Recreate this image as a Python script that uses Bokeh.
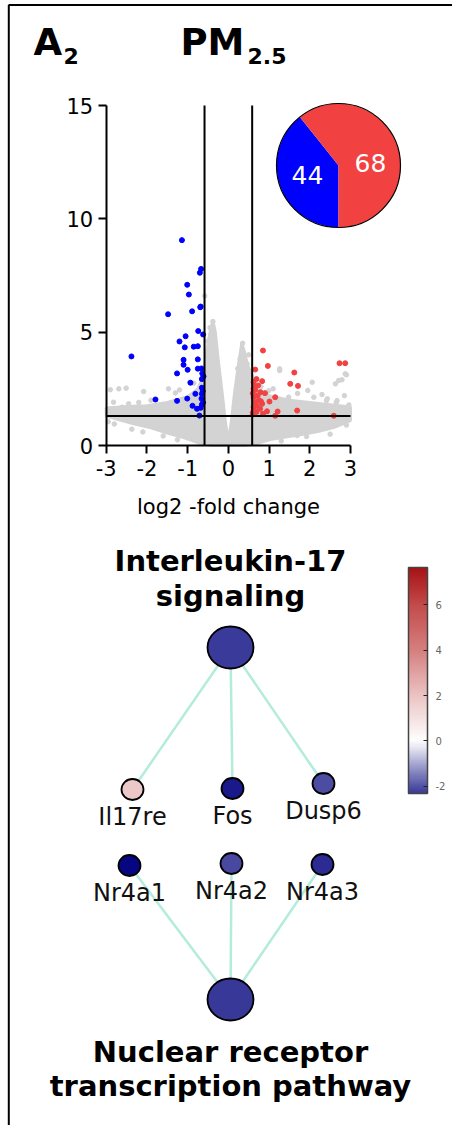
import numpy as np
from bokeh.plotting import figure
from bokeh.models import (Range1d, FixedTicker, LinearColorMapper, ColorBar, ColumnDataSource,
                          LinearAxis)
from bokeh.core.properties import value
from bokeh.embed import file_html
from bokeh.resources import INLINE

# ---------------- data ----------------
down_count = 44
up_count = 68
fc_cut = 0.585
p_cut = 1.301

x_ticks = [-3, -2, -1, 0, 1, 2, 3]
y_ticks = [0, 5, 10, 15]

blue_x = [-1.14, -0.67, -0.70, -1.01, -0.97, -0.69, -0.68, -0.89, -1.48, -0.74, -0.62, -1.05,
          -1.20, -1.07, -0.85, -0.75, -2.38, -1.10, -0.75, -1.10, -1.00, -0.75, -0.66, -1.26,
          -0.64, -0.65, -0.93, -0.65, -0.81, -0.65, -1.01, -1.79, -1.26, -0.66, -0.88, -0.77,
          -0.68, -0.65, -0.71, -0.62, -0.63, -0.61]
blue_y = [9.06, 7.79, 7.62, 7.09, 6.66, 6.10, 6.13, 5.92, 5.79, 5.05, 4.90, 4.82,
          4.59, 4.33, 4.36, 4.38, 3.93, 3.78, 3.80, 3.56, 3.34, 3.39, 3.40, 3.18,
          3.18, 2.93, 2.77, 2.55, 2.28, 2.28, 2.07, 2.03, 1.97, 2.07, 1.75, 1.62,
          1.66, 1.81, 1.32, 1.90, 2.40, 3.05]

red_x = [0.85, 0.97, 0.66, 1.62, 2.73, 2.87, 0.69, 0.83, 1.52, 1.71, 0.62, 0.79, 0.90,
         1.15, 0.62, 0.66, 1.01, 0.83, 0.62, 0.95, 1.21, 1.69, 0.69, 0.85, 1.15, 2.59,
         0.60, 0.62, 0.65, 0.60, 0.72, 0.75, 0.63, 0.70, 0.78, 0.60, 0.66, 0.73, 0.80]
red_y = [4.19, 3.51, 3.35, 3.22, 3.63, 3.63, 2.93, 2.84, 2.72, 2.63, 2.50, 2.35, 2.31,
         2.13, 2.13, 1.91, 1.94, 1.84, 1.69, 1.51, 1.50, 1.54, 1.48, 1.40, 1.31, 1.31,
         1.37, 2.80, 2.60, 2.30, 2.20, 2.00, 1.55, 1.75, 1.62, 1.45, 2.45, 2.65, 1.95]

grey_x = [-2.90, -2.69, -2.51, -2.08, -1.47, -0.95, -1.30, -2.82, -2.61, -2.45, -2.37, -1.90,
          -2.20, -1.20, -0.85, -2.95, -2.80, -2.10, -1.60, -1.25, -0.58, -0.38, -0.39, -0.45,
          -0.50, 0.35, 0.29, 0.46, 1.26, 1.26, 0.23, 2.06, 2.63, 2.79, 2.90, 1.95, 0.99, 1.48,
          2.43, 2.96, 2.67, 1.92, 2.10, 1.69, 2.87, 2.71, 2.10, 2.41, 2.65, 0.50, 1.10, 1.70,
          2.30, 2.85, 0.80, 1.30, 2.50, 2.90]
grey_y = [2.46, 2.50, 2.53, 2.38, 2.50, 2.79, 2.32, 1.91, 1.69, 1.84, 0.72, 2.00,
          1.90, 2.45, 2.75, 1.05, 0.95, 0.60, 0.42, 0.25, 6.60, 5.47, 5.20, 5.20,
          4.60, 4.51, 3.82, 3.60, 3.31, 3.38, 3.39, 2.79, 2.72, 2.90, 3.12, 2.43, 2.41, 2.13,
          2.06, 1.79, 1.98, 0.40, 0.76, 0.44, 3.16, 2.87, 2.13, 1.98, 1.90, 4.00, 2.50, 2.30,
          2.25, 2.20, 2.60, 0.20, 0.50, 0.90]

# outline of the dense cloud of non-significant genes
cloud_x = [-3.0, -2.5, -2.0, -1.5, -1.0, -0.75, -0.62, -0.55, -0.45, -0.38, -0.32, -0.25, -0.15,
           -0.07, 0.0, 0.07, 0.15, 0.25, 0.33, 0.40, 0.48, 0.58, 0.70, 1.0, 1.5, 2.0, 2.5, 3.0,
           3.0, 2.6, 2.2, 1.8, 1.4, 1.0, 0.7, 0.4, -0.4, -0.7, -1.1, -1.5, -1.9, -2.3, -2.7, -3.0]
cloud_y = [1.65, 1.72, 1.75, 1.90, 2.15, 2.50, 3.00, 4.00, 5.00, 5.50, 5.00, 3.80, 2.30,
           1.00, 0.20, 1.00, 2.30, 3.60, 4.50, 4.10, 3.50, 3.10, 2.50, 2.20, 2.00, 1.90, 1.80, 1.70,
           1.10, 0.80, 0.62, 0.48, 0.37, 0.25, 0.08, 0.00, 0.00, 0.10, 0.35, 0.55, 0.78, 0.95, 1.15, 1.30]

# network (layout positions in page pixels)
path_line1 = ["Interleukin-17", "Nuclear receptor"]
path_line2 = ["signaling", "transcription pathway"]
path_x = [230, 230]
path_y = [647, 999]
path_val = [-2.35, -2.40]

genes = ["Il17re", "Fos", "Dusp6", "Nr4a1", "Nr4a2", "Nr4a3"]
gene_x = [132, 232, 323, 129, 231, 322]
gene_y = [789, 788, 783, 865, 863, 864]
gene_val = [1.85, -3.25, -2.05, -3.80, -2.10, -2.75]
gene_path = [0, 0, 0, 1, 1, 1]

cbar_ticks = [-2, 0, 2, 4, 6]
cbar_low, cbar_high = -2.3, 7.65

# ---------------- styles / geometry ----------------
FONT = value("DejaVu Sans")
BLUE = "#0000ff"
RED = "#f24141"
GREY = "#d3d3d3"
W, H = 452, 1125
VL, VR, VB, VT = 105.7, 350.0, 445.0, 105.0   # page pixels of volcano axes ends
BASE = 0.41   # baseline correction (fraction of font size)

anc_v = [-4.0, -2.3, -2.0, 0.0, 2.0, 4.0, 6.0, 7.65]
anc_c = [(0, 0, 128), (60, 60, 155), (82, 82, 166), (255, 255, 255),
         (236, 196, 196), (214, 128, 128), (196, 76, 76), (168, 18, 22)]
vv = np.linspace(anc_v[0], anc_v[-1], 256)
chan = [np.interp(vv, anc_v, [c[i] for c in anc_c]) for i in range(3)]
palette = ["#%02x%02x%02x" % (int(r), int(g), int(b)) for r, g, b in zip(*chan)]
mapper = LinearColorMapper(palette=palette, low=anc_v[0], high=anc_v[-1])

p = figure(width=W, height=H, x_range=Range1d(0, W), y_range=Range1d(H, 0),
           toolbar_location=None, output_backend="svg",
           x_axis_location=None, y_axis_location=None,
           min_border=0, outline_line_color=None)
p.xgrid.visible = False
p.ygrid.visible = False

# volcano coordinate system
sx = (VR - VL) / (x_ticks[-1] - x_ticks[0])
sy = (VB - VT) / (y_ticks[-1] - y_ticks[0])
x0 = x_ticks[0] - VL / sx
y_top = y_ticks[0] + VB / sy
p.extra_x_ranges = {"vx": Range1d(x0, x0 + W / sx)}
p.extra_y_ranges = {"vy": Range1d(y_top - H / sy, y_top)}
V = dict(x_range_name="vx", y_range_name="vy")


def fs(px):
    return "%dpx" % px


def txt(x, y, text, size, dy=0, bold=False, **kw):
    off = dy - BASE * size if np.isscalar(dy) else [d - BASE * size for d in dy]
    p.text(x=x, y=y, text=text, y_offset=off, text_font=FONT,
           text_font_style="bold" if bold else "normal", text_font_size=fs(size),
           text_baseline="alphabetic", **kw)


# frame border
p.segment(x0=[8], y0=[4.5], x1=[W], y1=[4.5], line_color="black", line_width=2)
p.segment(x0=[8.3], y0=[4.5], x1=[8.3], y1=[H], line_color="black", line_width=2)

# header
txt([33, 180], [57, 57], ["A", "PM"], 37, bold=True, text_color="black")
txt([63, 247], [65, 65], ["2", "2.5"], 22, bold=True, text_color="black")

# volcano
p.patch(cloud_x, cloud_y, fill_color=GREY, line_color=GREY, line_width=3, **V)
p.scatter(grey_x, grey_y, size=4.5, color=GREY, **V)
p.scatter(blue_x, blue_y, size=5, color=BLUE, **V)
p.scatter(red_x, red_y, size=5, color=RED, **V)
p.segment(x0=[-fc_cut, fc_cut], y0=[y_ticks[0]] * 2, x1=[-fc_cut, fc_cut], y1=[y_ticks[-1]] * 2,
          line_color="black", line_width=2, **V)
p.segment(x0=[x_ticks[0]], y0=[p_cut], x1=[x_ticks[-1]], y1=[p_cut], line_color="black",
          line_width=2, **V)

xax = LinearAxis(fixed_location=y_ticks[0], bounds=(x_ticks[0], x_ticks[-1]),
                 ticker=FixedTicker(ticks=x_ticks),
                 major_label_overrides={t: str(t) for t in x_ticks},
                 axis_label="log2 -fold change", **V)
yax = LinearAxis(fixed_location=x_ticks[0], bounds=(y_ticks[0], y_ticks[-1]),
                 ticker=FixedTicker(ticks=y_ticks), **V)
for ax in (xax, yax):
    ax.axis_line_width = 2
    ax.major_tick_line_width = 2
    ax.major_tick_out = 8
    ax.major_tick_in = 0
    ax.minor_tick_line_color = None
    ax.major_label_text_font = "DejaVu Sans"
    ax.major_label_text_font_size = "21px"
    ax.major_label_text_color = "black"
xax.major_label_standoff = 6
yax.major_label_standoff = 5
xax.axis_label_text_font = "DejaVu Sans"
xax.axis_label_text_font_size = "21px"
xax.axis_label_text_font_style = "normal"
xax.axis_label_text_color = "black"
xax.axis_label_standoff = 16
p.add_layout(xax, "below")
p.add_layout(yax, "left")

# pie inset (centre given in page pixels)
pie_cx, pie_cy, pie_r = 338, 165, 62
total = down_count + up_count
a0 = np.pi * 1.5
a_blue = a0 - 2 * np.pi * down_count / total
pie_src = ColumnDataSource(dict(start=[a_blue, a0], end=[a0, a_blue + 2 * np.pi],
                                color=[BLUE, RED]))
p.wedge(x=x0 + pie_cx / sx, y=y_top - pie_cy / sy, radius=pie_r, radius_units="screen",
        start_angle="start", end_angle="end", fill_color="color", line_color=None,
        source=pie_src, **V)
p.scatter(x=[pie_cx], y=[pie_cy], size=2 * pie_r, fill_color=None, line_color="black", line_width=1.2)
txt([pie_cx, pie_cx], [pie_cy, pie_cy], [str(down_count), str(up_count)], 25, dy=[20, 8],
    x_offset=[-31, 32], text_align="center", text_color="white")

# network
ex0 = [path_x[k] for k in gene_path]
ey0 = [path_y[k] for k in gene_path]
p.segment(x0=ex0, y0=ey0, x1=gene_x, y1=gene_y, line_color="#b4ecdc", line_width=2.5)

p.ellipse(x="x", y="y", width=46, height=42, width_units="screen", height_units="screen",
          fill_color={"field": "v", "transform": mapper}, line_color="black", line_width=1.8,
          source=ColumnDataSource(dict(x=path_x, y=path_y, v=path_val)))
p.ellipse(x="x", y="y", width=22, height=21, width_units="screen", height_units="screen",
          fill_color={"field": "v", "transform": mapper}, line_color="black", line_width=1.8,
          source=ColumnDataSource(dict(x=gene_x, y=gene_y, v=gene_val)))

txt(gene_x, gene_y, genes, 24, dy=37, text_align="center", text_color="#111111")
txt(path_x, path_y, path_line1, 29, dy=[-75, 64], bold=True, text_align="center", text_color="black")
txt(path_x, path_y, path_line2, 29, dy=[-40, 98], bold=True, text_align="center", text_color="black")

cbar = ColorBar(color_mapper=mapper, location=(408, H - 793), orientation="vertical",
                width=19, height=226, padding=0, ticker=FixedTicker(ticks=cbar_ticks),
                major_label_overrides={t: str(t) for t in cbar_ticks},
                major_label_text_font="DejaVu Sans", major_label_text_font_size="10px",
                major_label_text_color="#666666", major_tick_line_color="#222222",
                major_tick_in=4, major_tick_out=0, minor_tick_line_color=None,
                bar_line_color="#444444", bar_line_width=1.5,
                display_low=cbar_low, display_high=cbar_high, label_standoff=8,
                background_fill_alpha=0, border_line_color=None)
p.add_layout(cbar)

open("out.html", "w").write(file_html(p, INLINE))
